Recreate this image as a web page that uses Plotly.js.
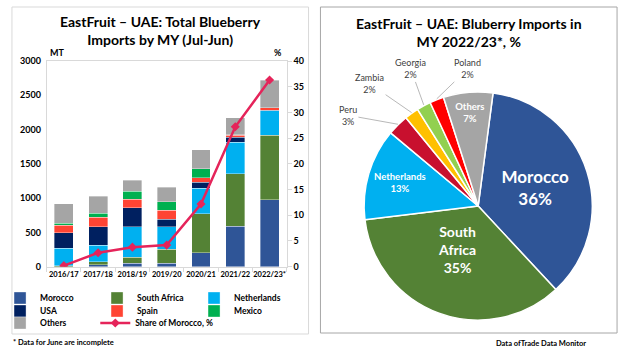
<!DOCTYPE html>
<html>
<head>
<meta charset="utf-8">
<script src="https://cdn.plot.ly/plotly-3.0.1.min.js"></script>
<style>
html,body{margin:0;padding:0;background:#fff;}
#chart{width:624px;height:351px;}
</style>
</head>
<body>
<div id="chart"></div>
<script>
// ---- Data (left chart) ----
const years = ['2016/17','2017/18','2018/19','2019/20','2020/21','2021/22','2022/23*'];
const morocco     = [0, 28, 48, 49, 204, 587, 976];
const southAfrica = [15, 45, 88, 203, 568, 772, 941];
const netherlands = [257, 242, 446, 330, 374, 456, 360];
const usa         = [223, 267, 277, 107, 87, 73, 5];
const spain       = [112, 141, 126, 131, 63, 29, 38];
const mexico      = [24, 54, 117, 127, 131, 10, 0];
const others      = [286, 247, 160, 213, 277, 248, 398];
const shareMorocco = [0.2, 2.7, 3.8, 4.2, 12.2, 27.2, 36.3];

// ---- Data (right chart) ----
const pieLabels = ['Morocco','South Africa','Netherlands','Peru','Zambia','Georgia','Poland','Others'];
const pieValues = [36, 35, 13, 3, 2, 2, 2, 7];

// ---- Style ----
const FONT = 'Lato, "Liberation Sans", sans-serif';
const W = 624, H = 351;
const px = x => x / W;
const py = y => 1 - y / H;

const barColors = {
  Morocco:'#2F5597', 'South Africa':'#548235', Netherlands:'#00B0F0',
  USA:'#002060', Spain:'#FF4433', Mexico:'#00B050', Others:'#A5A5A5'
};
const pieColors = ['#2F5597','#548235','#00B0F0','#C8102E','#FFC000','#92D050','#FF0000','#A5A5A5'];

const series = [
  ['Morocco', morocco, 'legend'],
  ['South Africa', southAfrica, 'legend'],
  ['Netherlands', netherlands, 'legend'],
  ['USA', usa, 'legend2'],
  ['Spain', spain, 'legend2'],
  ['Mexico', mexico, 'legend2'],
  ['Others', others, 'legend3']
];

const traces = series.map(([name, vals, lg]) => ({
  type:'bar', name:name, x:years, y:vals, xaxis:'x', yaxis:'y',
  legend: lg,
  marker:{color:barColors[name], line:{color:'rgba(255,255,255,0.6)', width:0.6}},
  width:0.55,
  hoverinfo:'name+y'
}));

traces.push({
  type:'scatter', mode:'lines+markers', name:'Share of Morocco, %',
  x:years, y:shareMorocco, xaxis:'x', yaxis:'y2', legend:'legend4',
  line:{color:'#E5245A', width:2.5},
  marker:{symbol:'diamond', size:7, color:'#E5245A'}
});

// Pie
const pieText = pieLabels.map((l,i) => i === 1 ? l.replace(' ', '<br>') : l);
const insideIdx = [0,2,7];
const pieTemplates = pieLabels.map((l,i) => insideIdx.includes(i) ? '%{text}<br>%{value}%' : '');
const pieSizes = [17, 14, 9.5, 9, 9, 9, 9, 9.5];
const pieRotation = 7.5;
const pieCx = 477, pieCy = 206, pieR = 115;

traces.push({
  type:'pie', labels:pieLabels, values:pieValues, text:pieText,
  texttemplate:pieTemplates, textposition:'inside', insidetextorientation:'horizontal',
  textfont:{family:FONT, color:'#ffffff', size:pieSizes, weight:'bold'},
  marker:{colors:pieColors, line:{color:'#ffffff', width:1.5}},
  sort:false, direction:'clockwise', rotation:pieRotation,
  domain:{x:[px(pieCx-pieR), px(pieCx+pieR)], y:[py(pieCy+pieR), py(pieCy-pieR)]},
  showlegend:false, hoverinfo:'label+percent'
});

// Outside labels for small pie slices (leader lines)
const labelOffsets = {3:[-50,-9], 4:[-42,-29], 5:[-13,-36], 6:[31,-30]};
const annotations = [];
let cum = 0;
const total = pieValues.reduce((a,b)=>a+b,0);
pieValues.forEach((v,i) => {
  const mid = (pieRotation + (cum + v/2) / total * 360) * Math.PI / 180;
  cum += v;
  if (labelOffsets[i]) {
    const tx = pieCx + pieR * Math.sin(mid);
    const ty = pieCy - pieR * Math.cos(mid);
    annotations.push({
      xref:'paper', yref:'paper', x:px(tx), y:py(ty),
      text: pieLabels[i] + '<br>' + pieValues[i] + '%',
      showarrow:true, arrowhead:0, arrowwidth:0.8, arrowcolor:'#a6a6a6',
      ax:labelOffsets[i][0], ay:labelOffsets[i][1],
      font:{family:FONT, size:9, color:'#404040'}, align:'center'
    });
  }
});
// South Africa label placed inside its slice
annotations.push({
  xref:'paper', yref:'paper', x:px(456), y:py(249), xanchor:'center', yanchor:'middle', showarrow:false,
  text:'<b>' + pieText[1] + '<br>' + pieValues[1] + '%</b>',
  font:{family:FONT, size:14, color:'#ffffff'}, align:'center'
});

// Titles & texts
annotations.push(
  {xref:'paper', yref:'paper', x:px(157), y:py(31), xanchor:'center', yanchor:'middle', showarrow:false,
   text:'<b>EastFruit – UAE: Total Blueberry<br>Imports by MY (Jul-Jun)</b>', font:{family:FONT, size:14, color:'#000'}},
  {xref:'paper', yref:'paper', x:px(468), y:py(32), xanchor:'center', yanchor:'middle', showarrow:false,
   text:'<b>EastFruit – UAE: Bluberry Imports in<br>MY 2022/23*, %</b>', font:{family:FONT, size:14, color:'#000'}},
  {xref:'paper', yref:'paper', x:px(43), y:py(52), xanchor:'left', yanchor:'middle', showarrow:false,
   text:'<b>MT</b>', font:{family:FONT, size:9, color:'#000'}},
  {xref:'paper', yref:'paper', x:px(275), y:py(52), xanchor:'center', yanchor:'middle', showarrow:false,
   text:'<b>%</b>', font:{family:FONT, size:9, color:'#000'}},
  {xref:'paper', yref:'paper', x:px(6), y:py(342), xanchor:'left', yanchor:'middle', showarrow:false,
   text:'<b>* Data for June are incomplete</b>', font:{family:FONT, size:7.5, color:'#000'}},
  {xref:'paper', yref:'paper', x:px(493), y:py(343), xanchor:'left', yanchor:'middle', showarrow:false,
   text:'<b>Data ofTrade Data Monitor</b>', font:{family:FONT, size:7.5, color:'#000'}}
);

const legendBase = {
  orientation:'h', xanchor:'left', yanchor:'middle', bgcolor:'rgba(0,0,0,0)',
  font:{family:FONT, size:8.5, color:'#000', weight:'bold'},
  entrywidth:52, entrywidthmode:'pixels', traceorder:'normal', itemwidth:30,
  itemclick:false, itemdoubleclick:false
};

const layout = {
  width:W, height:H, margin:{l:0, r:0, t:0, b:0},
  paper_bgcolor:'#ffffff', plot_bgcolor:'rgba(0,0,0,0)',
  font:{family:FONT},
  barmode:'stack', bargap:0.45,
  showlegend:true,
  legend: Object.assign({}, legendBase, {x:px(-5), y:py(298)}),
  legend2: Object.assign({}, legendBase, {x:px(-5), y:py(311)}),
  legend3: Object.assign({}, legendBase, {x:px(-5), y:py(323)}),
  legend4: Object.assign({}, legendBase, {x:px(91), y:py(323), entrywidth:0}),
  xaxis:{domain:[px(42), px(284)], anchor:'y', type:'category', tickangle:0,
    showline:true, mirror:true, linecolor:'#d9d9d9', linewidth:1,
    ticks:'outside', tickson:'boundaries', ticklen:4, tickcolor:'#d9d9d9',
    tickfont:{family:FONT, size:7.5, color:'#000', weight:'bold'}, showgrid:false, fixedrange:true},
  yaxis:{domain:[py(266.7), py(61)], range:[0,3000], dtick:500, anchor:'x',
    showline:true, linecolor:'#d9d9d9', showgrid:false, zeroline:false, ticks:'',
    ticklabelstandoff:3,
    tickfont:{family:FONT, size:9, color:'#000', weight:'bold'}, fixedrange:true},
  yaxis2:{overlaying:'y', side:'right', anchor:'x', range:[0,40], dtick:5,
    showline:true, linecolor:'#d9d9d9', showgrid:false, zeroline:false,
    ticks:'outside', ticklen:4, tickcolor:'#d9d9d9',
    tickfont:{family:FONT, size:9, color:'#000', weight:'bold'}, fixedrange:true},
  shapes:[
    {type:'rect', xref:'paper', yref:'paper', x0:px(7), x1:px(306), y0:py(334), y1:py(7),
     line:{color:'#d9d9d9', width:1}, fillcolor:'rgba(0,0,0,0)', layer:'below'},
    {type:'rect', xref:'paper', yref:'paper', x0:px(318), x1:px(617), y0:py(333), y1:py(7),
     line:{color:'#a6a6a6', width:1}, fillcolor:'rgba(0,0,0,0)', layer:'below'}
  ],
  annotations:annotations
};

Plotly.newPlot('chart', traces, layout, {displayModeBar:false, staticPlot:true});
</script>
</body>
</html>
